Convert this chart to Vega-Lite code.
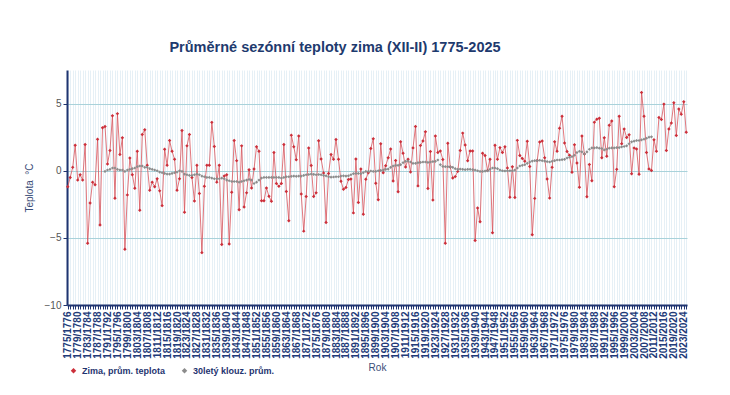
{
  "$schema": "https://vega.github.io/schema/vega-lite/v6.json",
  "width": 620,
  "height": 235,
  "autosize": {"type": "none"},
  "padding": {"left": 67, "top": 70, "right": 43, "bottom": 90},
  "background": "white",
  "title": {"text": "Průměrné sezónní teploty zima (XII-II) 1775-2025", "font": "Liberation Sans", "fontSize": 14.5, "fontWeight": "bold", "color": "#1e3a6e", "anchor": "middle", "dx": -42, "offset": 15},
  "config": {"view": {"stroke": null}, "font": "Liberation Sans"},
  "data": {"values": [
{"s":"1775/1776","t":-1.2},{"s":"1776/1777","t":-0.5},{"s":"1777/1778","t":0.25},{"s":"1778/1779","t":1.9},{"s":"1779/1780","t":-0.7},{"s":"1780/1781","t":-0.3},{"s":"1781/1782","t":-0.7},{"s":"1782/1783","t":1.95},{"s":"1783/1784","t":-5.4},{"s":"1784/1785","t":-2.4},
{"s":"1785/1786","t":-0.85},{"s":"1786/1787","t":-1.05},{"s":"1787/1788","t":2.35},{"s":"1788/1789","t":-4.05},{"s":"1789/1790","t":3.2},{"s":"1790/1791","t":3.3,"m":-0.05},{"s":"1791/1792","t":0.5,"m":0.05},{"s":"1792/1793","t":1.5,"m":0.1},{"s":"1793/1794","t":4.1,"m":0.2},{"s":"1794/1795","t":-2.05,"m":0.2},
{"s":"1795/1796","t":4.25,"m":0.1},{"s":"1796/1797","t":1.2,"m":0.05},{"s":"1797/1798","t":2.45,"m":0.05},{"s":"1798/1799","t":-5.85,"m":-0.05},{"s":"1799/1800","t":-1.8,"m":0.05},{"s":"1800/1801","t":0.95,"m":0.1},{"s":"1801/1802","t":-0.3,"m":0.15},{"s":"1802/1803","t":-1.3,"m":0.2},{"s":"1803/1804","t":1.45,"m":0.3},{"s":"1804/1805","t":-2.95,"m":0.35},
{"s":"1805/1806","t":2.7,"m":0.35},{"s":"1806/1807","t":3.05,"m":0.25},{"s":"1807/1808","t":0.4,"m":0.25},{"s":"1808/1809","t":-1.45,"m":0.15},{"s":"1809/1810","t":-0.85,"m":0.1},{"s":"1810/1811","t":-1.2,"m":0.05},{"s":"1811/1812","t":-0.6,"m":0.0},{"s":"1812/1813","t":-1.5,"m":-0.1},{"s":"1813/1814","t":-2.6,"m":-0.15},{"s":"1814/1815","t":1.6,"m":-0.2},
{"s":"1815/1816","t":0.4,"m":-0.25},{"s":"1816/1817","t":2.25,"m":-0.25},{"s":"1817/1818","t":1.45,"m":-0.2},{"s":"1818/1819","t":0.85,"m":-0.15},{"s":"1819/1820","t":-1.45,"m":-0.1},{"s":"1820/1821","t":-0.6,"m":0.0},{"s":"1821/1822","t":3.0,"m":-0.05},{"s":"1822/1823","t":-3.1,"m":-0.25},{"s":"1823/1824","t":1.85,"m":-0.3},{"s":"1824/1825","t":2.7,"m":-0.35},
{"s":"1825/1826","t":-0.5,"m":-0.35},{"s":"1826/1827","t":-2.25,"m":-0.3},{"s":"1827/1828","t":0.4,"m":-0.25},{"s":"1828/1829","t":-1.7,"m":-0.3},{"s":"1829/1830","t":-6.1,"m":-0.4},{"s":"1830/1831","t":-1.15,"m":-0.45},{"s":"1831/1832","t":0.4,"m":-0.5},{"s":"1832/1833","t":0.4,"m":-0.5},{"s":"1833/1834","t":3.6,"m":-0.55},{"s":"1834/1835","t":1.8,"m":-0.6},
{"s":"1835/1836","t":-0.85,"m":-0.6},{"s":"1836/1837","t":0.4,"m":-0.6},{"s":"1837/1838","t":-5.5,"m":-0.55},{"s":"1838/1839","t":-0.4,"m":-0.6},{"s":"1839/1840","t":-0.3,"m":-0.7},{"s":"1840/1841","t":-5.45,"m":-0.75},{"s":"1841/1842","t":-1.6,"m":-0.8},{"s":"1842/1843","t":2.25,"m":-0.8},{"s":"1843/1844","t":0.75,"m":-0.8},{"s":"1844/1845","t":-2.9,"m":-0.85},
{"s":"1845/1846","t":1.85,"m":-0.8},{"s":"1846/1847","t":-2.7,"m":-0.75},{"s":"1847/1848","t":-1.65,"m":-0.7},{"s":"1848/1849","t":0.07,"m":-0.65},{"s":"1849/1850","t":-1.28,"m":-0.7},{"s":"1850/1851","t":0.12,"m":-0.95},{"s":"1851/1852","t":1.79,"m":-0.85},{"s":"1852/1853","t":1.45,"m":-0.7},{"s":"1853/1854","t":-2.24,"m":-0.55},{"s":"1854/1855","t":-2.24,"m":-0.5},
{"s":"1855/1856","t":-1.28,"m":-0.5},{"s":"1856/1857","t":-1.9,"m":-0.5},{"s":"1857/1858","t":-2.28,"m":-0.5},{"s":"1858/1859","t":1.35,"m":-0.5},{"s":"1859/1860","t":-0.96,"m":-0.5},{"s":"1860/1861","t":-1.15,"m":-0.5},{"s":"1861/1862","t":-0.96,"m":-0.55},{"s":"1862/1863","t":1.96,"m":-0.5},{"s":"1863/1864","t":-1.55,"m":-0.45},{"s":"1864/1865","t":-3.73,"m":-0.45},
{"s":"1865/1866","t":2.65,"m":-0.42},{"s":"1866/1867","t":1.79,"m":-0.4},{"s":"1867/1868","t":0.81,"m":-0.42},{"s":"1868/1869","t":2.58,"m":-0.4},{"s":"1869/1870","t":-1.74,"m":-0.4},{"s":"1870/1871","t":-4.5,"m":-0.35},{"s":"1871/1872","t":-1.92,"m":-0.3},{"s":"1872/1873","t":1.69,"m":-0.28},{"s":"1873/1874","t":0.39,"m":-0.25},{"s":"1874/1875","t":-1.92,"m":-0.27},
{"s":"1875/1876","t":-1.65,"m":-0.3},{"s":"1876/1877","t":2.23,"m":-0.28},{"s":"1877/1878","t":0.88,"m":-0.3},{"s":"1878/1879","t":-0.17,"m":-0.35},{"s":"1879/1880","t":-3.86,"m":-0.38},{"s":"1880/1881","t":-0.2,"m":-0.45},{"s":"1881/1882","t":1.2,"m":-0.48},{"s":"1882/1883","t":0.86,"m":-0.47},{"s":"1883/1884","t":2.33,"m":-0.45},{"s":"1884/1885","t":0.86,"m":-0.45},
{"s":"1885/1886","t":-0.79,"m":-0.4},{"s":"1886/1887","t":-1.38,"m":-0.38},{"s":"1887/1888","t":-1.25,"m":-0.4},{"s":"1888/1889","t":-0.66,"m":-0.38},{"s":"1889/1890","t":-0.61,"m":-0.3},{"s":"1890/1891","t":-3.14,"m":-0.22},{"s":"1891/1892","t":0.88,"m":-0.2},{"s":"1892/1893","t":-2.36,"m":-0.2},{"s":"1893/1894","t":0.12,"m":-0.22},{"s":"1894/1895","t":-3.24,"m":-0.15},
{"s":"1895/1896","t":-0.64,"m":-0.05},{"s":"1896/1897","t":-0.15,"m":-0.05},{"s":"1897/1898","t":1.65,"m":-0.02},{"s":"1898/1899","t":2.38,"m":-0.05},{"s":"1899/1900","t":-0.93,"m":-0.05},{"s":"1900/1901","t":-2.16,"m":0.0},{"s":"1901/1902","t":2.01,"m":0.02},{"s":"1902/1903","t":-0.15,"m":0.05},{"s":"1903/1904","t":0.37,"m":0.1},{"s":"1904/1905","t":0.96,"m":0.12},
{"s":"1905/1906","t":1.62,"m":0.25},{"s":"1906/1907","t":-0.76,"m":0.35},{"s":"1907/1908","t":0.76,"m":0.4},{"s":"1908/1909","t":-1.57,"m":0.4},{"s":"1909/1910","t":2.16,"m":0.45},{"s":"1910/1911","t":1.3,"m":0.6},{"s":"1911/1912","t":0.27,"m":0.7},{"s":"1912/1913","t":0.86,"m":0.72},{"s":"1913/1914","t":-0.1,"m":0.65},{"s":"1914/1915","t":1.7,"m":0.55},
{"s":"1915/1916","t":3.29,"m":0.55},{"s":"1916/1917","t":-1.13,"m":0.6},{"s":"1917/1918","t":1.87,"m":0.62},{"s":"1918/1919","t":2.21,"m":0.65},{"s":"1919/1920","t":2.9,"m":0.65},{"s":"1920/1921","t":-1.33,"m":0.62},{"s":"1921/1922","t":1.43,"m":0.65},{"s":"1922/1923","t":-2.19,"m":0.68},{"s":"1923/1924","t":2.58,"m":0.7},{"s":"1924/1925","t":1.35,"m":0.8},
{"s":"1925/1926","t":1.47,"m":0.45},{"s":"1926/1927","t":0.84,"m":0.32},{"s":"1927/1928","t":-5.4,"m":0.3},{"s":"1928/1929","t":2.04,"m":0.3},{"s":"1929/1930","t":0.27,"m":0.28},{"s":"1930/1931","t":-0.54,"m":0.25},{"s":"1931/1932","t":-0.44,"m":0.15},{"s":"1932/1933","t":-0.05,"m":0.1},{"s":"1933/1934","t":1.5,"m":0.12},{"s":"1934/1935","t":2.8,"m":0.1},
{"s":"1935/1936","t":1.92,"m":0.08},{"s":"1936/1937","t":0.74,"m":0.1},{"s":"1937/1938","t":1.47,"m":0.1},{"s":"1938/1939","t":1.47,"m":0.08},{"s":"1939/1940","t":-5.2,"m":0.05},{"s":"1940/1941","t":-2.78,"m":0.0},{"s":"1941/1942","t":-3.8,"m":-0.05},{"s":"1942/1943","t":1.3,"m":-0.05},{"s":"1943/1944","t":1.13,"m":-0.03},{"s":"1944/1945","t":0.02,"m":0.0},
{"s":"1945/1946","t":0.86,"m":0.1},{"s":"1946/1947","t":-4.62,"m":0.2},{"s":"1947/1948","t":1.89,"m":0.2},{"s":"1948/1949","t":0.86,"m":0.15},{"s":"1949/1950","t":1.72,"m":0.05},{"s":"1950/1951","t":1.35,"m":0.0},{"s":"1951/1952","t":1.79,"m":-0.02},{"s":"1952/1953","t":0.2,"m":0.0},{"s":"1953/1954","t":-1.97,"m":0.0},{"s":"1954/1955","t":0.29,"m":0.0},
{"s":"1955/1956","t":-1.99,"m":0.05},{"s":"1956/1957","t":2.26,"m":0.2},{"s":"1957/1958","t":1.13,"m":0.35},{"s":"1958/1959","t":0.91,"m":0.4},{"s":"1959/1960","t":0.71,"m":0.45},{"s":"1960/1961","t":2.19,"m":0.55},{"s":"1961/1962","t":0.32,"m":0.65},{"s":"1962/1963","t":-4.77,"m":0.72},{"s":"1963/1964","t":-2.06,"m":0.75},{"s":"1964/1965","t":0.76,"m":0.75},
{"s":"1965/1966","t":2.14,"m":0.78},{"s":"1966/1967","t":2.21,"m":0.75},{"s":"1967/1968","t":0.96,"m":0.72},{"s":"1968/1969","t":-0.61,"m":0.68},{"s":"1969/1970","t":-2.04,"m":0.65},{"s":"1970/1971","t":0.25,"m":0.7},{"s":"1971/1972","t":2.16,"m":0.75},{"s":"1972/1973","t":1.45,"m":0.8},{"s":"1973/1974","t":3.17,"m":0.8},{"s":"1974/1975","t":4.05,"m":0.82},
{"s":"1975/1976","t":2.06,"m":0.85},{"s":"1976/1977","t":1.43,"m":0.95},{"s":"1977/1978","t":1.15,"m":1.0},{"s":"1978/1979","t":-0.12,"m":1.05},{"s":"1979/1980","t":1.94,"m":1.15},{"s":"1980/1981","t":0.57,"m":1.35},{"s":"1981/1982","t":-1.23,"m":1.45},{"s":"1982/1983","t":2.58,"m":1.4},{"s":"1983/1984","t":1.25,"m":1.25},{"s":"1984/1985","t":-1.94,"m":1.4},
{"s":"1985/1986","t":0.47,"m":1.6},{"s":"1986/1987","t":-0.74,"m":1.7},{"s":"1987/1988","t":3.61,"m":1.7},{"s":"1988/1989","t":3.83,"m":1.72},{"s":"1989/1990","t":3.91,"m":1.68},{"s":"1990/1991","t":0.96,"m":1.65},{"s":"1991/1992","t":2.46,"m":1.55},{"s":"1992/1993","t":1.08,"m":1.6},{"s":"1993/1994","t":3.39,"m":1.68},{"s":"1994/1995","t":3.71,"m":1.7},
{"s":"1995/1996","t":-1.2,"m":1.7},{"s":"1996/1997","t":0.1,"m":1.72},{"s":"1997/1998","t":4.05,"m":1.72},{"s":"1998/1999","t":2.01,"m":1.78},{"s":"1999/2000","t":3.1,"m":1.8},{"s":"2000/2001","t":2.48,"m":1.85},{"s":"2001/2002","t":2.68,"m":2.0},{"s":"2002/2003","t":-0.22,"m":2.15},{"s":"2003/2004","t":1.7,"m":2.2},{"s":"2004/2005","t":1.62,"m":2.25},
{"s":"2005/2006","t":-0.27,"m":2.25},{"s":"2006/2007","t":5.82,"m":2.3},{"s":"2007/2008","t":4.05,"m":2.35},{"s":"2008/2009","t":1.35,"m":2.42},{"s":"2009/2010","t":0.12,"m":2.5},{"s":"2010/2011","t":0.02,"m":2.52},{"s":"2011/2012","t":2.31},{"s":"2012/2013","t":1.45},{"s":"2013/2014","t":3.96},{"s":"2014/2015","t":3.81},
{"s":"2015/2016","t":4.96},{"s":"2016/2017","t":1.5},{"s":"2017/2018","t":3.1},{"s":"2018/2019","t":3.56},{"s":"2019/2020","t":5.06},{"s":"2020/2021","t":2.63},{"s":"2021/2022","t":4.59},{"s":"2022/2023","t":4.2},{"s":"2023/2024","t":5.13},{"s":"2024/2025","t":2.87}
  ]},
  "encoding": {
    "x": {"field": "s", "type": "ordinal", "scale": {"type": "point", "padding": 0.3},
      "axis": {"title": "Rok", "titleFont": "Liberation Sans", "titleFontSize": 10, "titleFontWeight": "normal", "titleColor": "#3a4d78", "titlePadding": 4,
        "labelExpr": "(toNumber(slice(datum.value,0,4)) - 1775) % 4 == 0 ? datum.value : ''",
        "labelAngle": -90, "labelOverlap": false, "labelFontSize": 10, "labelFontWeight": "bold", "labelColor": "#223a78", "labelPadding": 2,
        "tickColor": "#1f3470", "tickSize": 4, "tickWidth": 1, "domainColor": "#1f3470", "domainWidth": 2,
        "grid": true, "gridColor": "#e6f0f6", "gridWidth": 1}},
    "y": {"type": "quantitative", "scale": {"domain": [-10, 7.5], "nice": false, "zero": false},
        "axis": {"title": "Teplota\u00a0\u00a0°C", "titleFont": "Liberation Sans", "titleFontSize": 10, "titleFontWeight": "normal", "titleColor": "#3a4d78", "titlePadding": 10,
          "values": [-10, -5, 0, 5], "labelOverlap": false, "labelFontSize": 10, "labelColor": "#555555",
          "tickColor": "#1f3470", "tickSize": 4,
          "domainColor": "#1f3470", "domainWidth": 2,
          "grid": true, "gridColor": "#a9d2da", "gridWidth": 1.2}}
  },
  "layer": [
    {"mark": {"type": "line", "strokeWidth": 0.8, "color": "#d9545c"},
     "encoding": {"y": {"field": "t"}}},
    {"mark": {"type": "point", "shape": "diamond", "filled": true, "size": 12, "opacity": 1},
     "encoding": {"y": {"field": "t"},
       "color": {"datum": "Zima, prům. teplota", "type": "nominal",
         "scale": {"domain": ["Zima, prům. teplota", "30letý klouz. prům."], "range": ["#cc2f3a", "#8c8c8c"]},
         "legend": {"title": null, "orient": "none", "legendX": 2, "legendY": 296, "direction": "horizontal", "symbolType": "diamond", "symbolSize": 30, "labelFontSize": 9, "labelFontWeight": "bold", "labelColor": "#1f3470", "columnPadding": 14, "labelFont": "Liberation Sans"}}}},
    {"transform": [{"filter": "isValid(datum.m)"}],
     "mark": {"type": "point", "shape": "diamond", "filled": true, "size": 10, "opacity": 1},
     "encoding": {"y": {"field": "m"},
       "color": {"datum": "30letý klouz. prům.", "type": "nominal"}}}
  ]
}
